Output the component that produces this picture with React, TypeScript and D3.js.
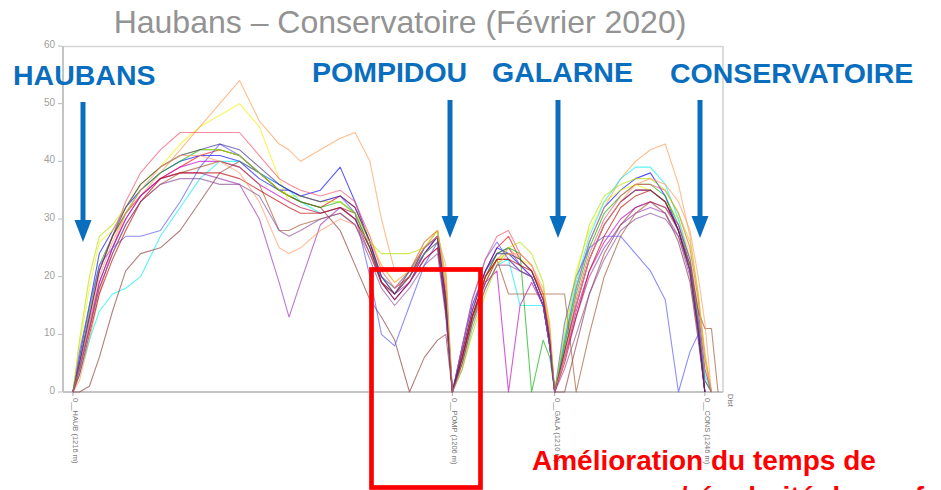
import * as d3 from 'd3';

// distance along the line (m), shared by every run
const distances = [
  30, 50, 80, 110, 150, 190, 235, 295, 355, 415, 475, 535, 595, 655, 685, 720, 780, 840, 885, 930, 965, 1005, 1050, 1095, 1135, 1160, 1180,
  1210, 1240, 1280, 1315, 1350, 1385, 1420, 1455, 1475, 1490,
  1520, 1555, 1595, 1640, 1690, 1735, 1780, 1825, 1865, 1900, 1925, 1945, 1965, 1985,
];

const stations = [30, 1180, 1490, 1945];
const stationTickLabels = ['0__HAUB (1216 m)', '0__POMP (1206 m)', '0__GALA (1210 m)', '0__CONS (1246 m)'];
const yTicks = [0, 10, 20, 30, 40, 50, 60];

// vitesses (km/h) de chaque course
const rouge = [
  0, 5, 13, 21, 27, 31, 34, 37, 39, 41, 42, 41, 38, 35, 34, 33, 32, 34, 32, 26, 20, 18, 20, 24, 27, 17, 0,
  7, 14, 21, 25, 27, 23, 21, 17, 10, 0,
  7, 15, 23, 29, 33, 35, 35, 33, 28, 22, 12, 0, null, null,
];
const bleu = [
  0, 6, 15, 24, 28, 32, 35, 38, 40, 41, 41, 40, 37, 35, 35, 34, 35, 39, 33, 26, 19, 16, 19, 24, 27, 14, 0,
  8, 15, 21, 25, 24, 22, 20, 15, 8, 0,
  9, 18, 26, 32, 35, 37, 38, 34, 28, 21, 10, 0, null, null,
];
const jaune = [
  0, 8, 18, 26, 28, 32, 36, 39, 43, 46, 48, 50, 46, 37, 33, 32, 31, 32, 31, 27, 22, 19, 21, 26, 28, 19, 0,
  5, 12, 19, 23, 24, 23, 22, 17, 11, 0,
  11, 21, 28, 33, 35, 36, 35, 33, 30, 24, 15, 5, 0, null,
];
const orange = [
  0, 2, 9, 17, 25, 31, 34, 38, 42, 46, 50, 54, 47, 43, 42, 40, 42, 44, 45, 40, 30, 21, 21, 25, 28, 20, 0,
  5, 12, 19, 23, 25, 23, 21, 16, 9, 0,
  8, 18, 26, 32, 37, 40, 42, 43, 36, 27, 17, 7, 0, null,
];
const cyan = [
  0, 3, 9, 14, 17, 18, 20, 27, 32, 37, 40, 40, 38, 36, 35, 33, 31, 32, 30, 25, 20, 18, 21, 24, 26, 15, 0,
  4, 11, 18, 22, 23, 15, 15, 15, 9, 0,
  9, 19, 27, 33, 37, 39, 39, 36, 30, 23, 13, 3, 0, null,
];
const violet = [
  0, 4, 12, 19, 25, 30, 34, 37, 38, 38, 37, 36, 30, 19, 13, 19, 29, 32, 31, 25, 20, 17, 19, 23, 25, 14, 0,
  6, 13, 20, 24, 25, 22, 20, 15, 8, 0,
  6, 13, 20, 25, 29, 31, 32, 31, 27, 20, 10, 0, null, null,
];
const marron = [
  0, 0, 1, 6, 14, 21, 24, 25, 28, 33, 38, 40, 38, 35, 34, 33, 32, 28, 22, 16, 13, 9, 0, 6, 9, 10, 0,
  6, 13, 19, 23, 23, 21, 20, 15, 8, 0,
  0, 8, 17, 24, 29, 32, 33, 31, 26, 19, 9, 0, null, null,
];
const vert = [
  0, 5, 14, 22, 27, 31, 35, 38, 40, 42, 42, 41, 38, 35, 34, 33, 32, 33, 31, 25, 19, 17, 20, 25, 27, 15, 0,
  5, 12, 20, 24, 25, 24, 0, 9, 6, 0,
  8, 17, 25, 31, 34, 36, 36, 34, 29, 22, 12, 2, 0, null,
];
const magenta = [
  0, 4, 11, 19, 25, 30, 34, 37, 39, 40, 40, 39, 36, 34, 33, 32, 31, 32, 30, 24, 19, 17, 20, 25, 27, 16, 0,
  6, 13, 19, 21, 0, 15, 19, 15, 8, 0,
  6, 14, 21, 26, 30, 32, 33, 32, 29, 23, 14, 4, 0, null,
];
const bleuRoi = [
  0, 7, 15, 22, 25, 27, 27, 28, 33, 39, 43, 41, 38, 36, 35, 34, 33, 34, 31, 20, 10, 8, 15, 22, 26, 15, 0,
  8, 16, 23, 26, 23, 21, 20, 15, 8, 0,
  12, 20, 25, 27, 27, 24, 21, 16, 0, 7, 10, 0, null, null,
];
const rose = [
  0, 5, 13, 21, 27, 33, 38, 42, 45, 45, 45, 45, 41, 37, 36, 35, 34, 35, 33, 27, 21, 18, 21, 26, 28, 18, 0,
  8, 16, 23, 27, 28, 24, 22, 17, 10, 0,
  7, 16, 24, 30, 34, 36, 36, 35, 31, 25, 16, 6, 0, null,
];
const sienne = [
  0, 4, 11, 18, 24, 29, 33, 36, 38, 39, 40, 39, 36, 28, 28, 29, 30, 31, 29, 24, 19, 17, 20, 24, 26, 16, 0,
  6, 13, 20, 23, 17, 17, 17, 17, 17, 17,
  17, 0, 10, 20, 27, 31, 33, 32, 28, 22, 14, 11, 11, 0,
];
const vertJaune = [
  0, 9, 20, 27, 29, 32, 36, 39, 41, 42, 42, 41, 38, 35, 34, 34, 33, 33, 31, 26, 24, 24, 24, 25, 28, 20, 0,
  4, 10, 17, 22, 25, 26, 24, 19, 11, 0,
  10, 20, 29, 34, 36, 37, 37, 35, 31, 26, 17, 6, 0, null,
];
const cramoisi = [
  0, 3, 10, 17, 23, 28, 33, 37, 38, 38, 38, 37, 35, 33, 32, 31, 31, 32, 30, 25, 19, 16, 19, 23, 25, 14, 0,
  6, 13, 20, 23, 23, 22, 21, 16, 9, 0,
  5, 13, 21, 27, 32, 34, 35, 33, 28, 21, 11, 0, null, null,
];
const indigo = [
  0, 5, 13, 21, 27, 32, 36, 39, 41, 42, 43, 42, 39, 36, 35, 34, 33, 34, 32, 26, 20, 17, 21, 25, 27, 16, 0,
  7, 14, 21, 24, 24, 23, 21, 16, 9, 0,
  7, 15, 23, 29, 33, 35, 35, 33, 28, 21, 11, 0, null, null,
];
const saumon = [
  0, 4, 12, 20, 26, 31, 35, 39, 41, 41, 40, 38, 33, 25, 24, 25, 28, 30, 29, 26, 22, 19, 21, 25, 27, 22, 0,
  4, 11, 18, 22, 24, 24, 22, 18, 12, 0,
  6, 15, 23, 29, 33, 36, 37, 36, 33, 28, 20, 12, 0, null,
];
const prune = [
  0, 4, 11, 18, 24, 29, 33, 36, 37, 37, 36, 36, 34, 28, 27, 28, 30, 31, 29, 23, 18, 15, 18, 22, 24, 13, 0,
  5, 12, 18, 22, 22, 21, 20, 15, 8, 0,
  4, 10, 17, 23, 28, 30, 31, 30, 27, 21, 12, 2, 0, null,
];

const series = [
  { name: 'rouge', color: '#ff0000', values: rouge },
  { name: 'bleu', color: '#0000ff', values: bleu },
  { name: 'jaune', color: '#f2f200', values: jaune },
  { name: 'orange', color: '#ff9a50', values: orange },
  { name: 'cyan', color: '#00f0f0', values: cyan },
  { name: 'violet', color: '#9b30b0', values: violet },
  { name: 'marron', color: '#8b3a3a', values: marron },
  { name: 'vert', color: '#00b000', values: vert },
  { name: 'magenta', color: '#c000c0', values: magenta },
  { name: 'bleuRoi', color: '#5050ff', values: bleuRoi },
  { name: 'rose', color: '#f4506a', values: rose },
  { name: 'sienne', color: '#a0522d', values: sienne },
  { name: 'vertJaune', color: '#b0e000', values: vertJaune },
  { name: 'cramoisi', color: '#c00000', values: cramoisi },
  { name: 'indigo', color: '#3a2a8a', values: indigo },
  { name: 'saumon', color: '#ff9966', values: saumon },
  { name: 'prune', color: '#8a4a9a', values: prune },
];

// annotations (slide overlay)
const arrows = [
  { label: 'HAUBANS', textX: 13, textY: 85, x: 83, y1: 102, y2: 242 },
  { label: 'POMPIDOU', textX: 312, textY: 82, x: 450, y1: 100, y2: 238 },
  { label: 'GALARNE', textX: 492, textY: 82, x: 558, y1: 100, y2: 238 },
  { label: 'CONSERVATOIRE', textX: 670, textY: 83, x: 700, y1: 100, y2: 238 },
];

export default function App() {
  const width = 941;
  const height = 490;
  const margin = { left: 63, right: 723, top: 46, bottom: 392 };

  const x = d3.scaleLinear().domain([0, 2000]).range([margin.left, margin.right]);
  const y = d3.scaleLinear().domain([0, 60]).range([margin.bottom, margin.top]);

  const line = d3
    .line<number | null>()
    .defined((v) => v !== null)
    .x((_, i) => x(distances[i]))
    .y((v) => y(v as number));

  const blue = '#0a6ebf';
  const font = '"Liberation Sans", Arial, sans-serif';

  return (
    <svg
      width={width}
      height={height}
      style={{ position: 'absolute', left: 0, top: 0, background: '#fff' }}
      fontFamily={font}
    >
      <text x={400} y={33} textAnchor="middle" fontSize={32} fill="#939393">
        Haubans – Conservatoire (Février 2020)
      </text>

      {/* frame */}
      <line x1={margin.left} x2={margin.right} y1={margin.top + 0.5} y2={margin.top + 0.5} stroke="#d6d6d6" strokeWidth={1.5} />
      <line x1={margin.right} x2={margin.right} y1={margin.top} y2={margin.bottom} stroke="#d0d0d0" strokeWidth={1.5} />
      <line x1={margin.left} x2={margin.left} y1={margin.top} y2={margin.bottom} stroke="#c4c4c4" strokeWidth={2} />
      <line x1={margin.left} x2={margin.right} y1={margin.bottom} y2={margin.bottom} stroke="#c4c4c4" strokeWidth={2} />

      {yTicks.map((t) => (
        <g key={t}>
          <line x1={58} x2={62} y1={y(t)} y2={y(t)} stroke="#bbb" />
          <text x={55} y={y(t) + 2} textAnchor="end" fontSize={10} fill="#a0a0a0">
            {t}
          </text>
        </g>
      ))}

      {stations.map((s, i) => (
        <g key={s}>
          <line x1={x(s)} x2={x(s)} y1={margin.bottom} y2={margin.bottom + 4} stroke="#aaa" />
          <text transform={`translate(${x(s)},${margin.bottom + 6}) rotate(90)`} fontSize={7.5} fill="#777">
            {stationTickLabels[i]}
          </text>
        </g>
      ))}
      <text transform={`translate(728,${margin.bottom + 2}) rotate(90)`} fontSize={7.5} fill="#777">
        Dist
      </text>

      {series.map((s) => (
        <path
          key={s.name}
          d={line(s.values) || ''}
          fill="none"
          stroke={s.color}
          strokeWidth={1.1}
          strokeOpacity={0.65}
          strokeLinejoin="round"
        />
      ))}

      {arrows.map((a) => (
        <g key={a.label}>
          <text x={a.textX} y={a.textY} fontSize={28.5} fontWeight="bold" fill={blue}>
            {a.label}
          </text>
          <line x1={a.x} x2={a.x} y1={a.y1} y2={a.y2 - 20} stroke={blue} strokeWidth={5} />
          <path d={`M${a.x - 8.5},${a.y2 - 22} L${a.x + 8.5},${a.y2 - 22} L${a.x},${a.y2} Z`} fill={blue} />
        </g>
      ))}

      <rect x={371.5} y={269.5} width={109} height={218} fill="none" stroke="#ff0000" strokeWidth={4.7} />

      <text x={532} y={470} fontSize={28} fontWeight="bold" fill="#ff0000">
        Amélioration du temps de
      </text>
      <text x={560} y={506} fontSize={28} fontWeight="bold" fill="#ff0000">
        parcours/régularité du confort
      </text>
    </svg>
  );
}
